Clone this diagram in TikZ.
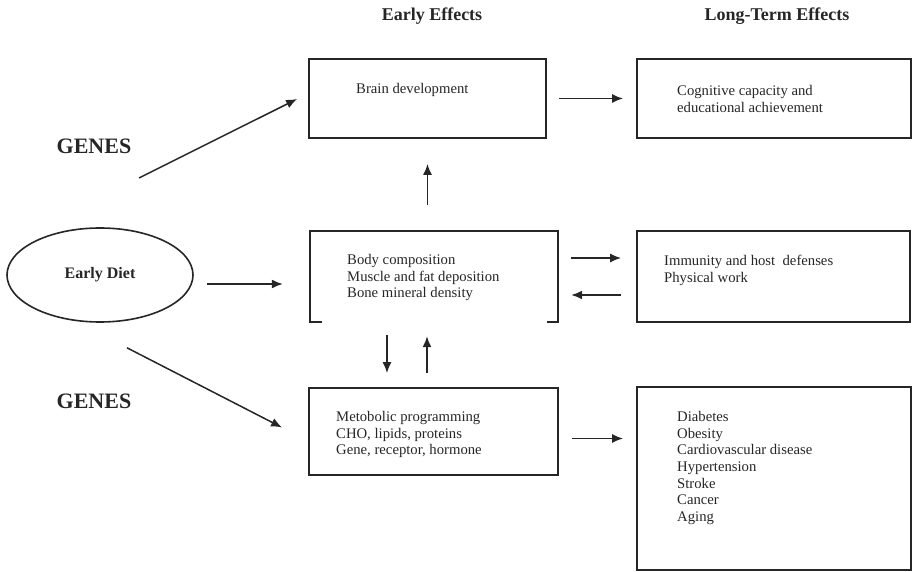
\documentclass[tikz,border=0pt]{standalone}
\usepackage{fontspec}
\setmainfont{Liberation Serif}
\usetikzlibrary{arrows.meta,shapes.geometric,fit,calc}
\begin{document}
\begin{tikzpicture}[x=1pt,y=-1pt,
  box/.style={draw=black!85, line width=1.8pt, inner sep=0pt, fit={#1}},
  txt/.style={anchor=north west, inner sep=0pt, align=left, text=black!85,
    font=\fontsize{14.7}{16.7}\selectfont},
  head/.style={inner sep=0pt, text=black!85, font=\fontsize{18}{20}\selectfont\bfseries},
  genes/.style={inner sep=0pt, text=black!85, font=\fontsize{22}{24}\selectfont\bfseries},
  arr/.style={draw=black!85, line width=1.5pt, -{Latex[length=11pt,width=9pt]}}]
\useasboundingbox (0,0) rectangle (914,572);
% headers
\node[head] (h1) at (432,16) {Early Effects};
\node[head] (h2) at (777,16) {Long-Term Effects};
\node[genes] (g1) at (94,146) {GENES};
\node[genes] (g2) at (94,401) {GENES};
% ellipse
\node[draw=black!85, line width=1.6pt, ellipse, minimum width=186pt, minimum height=94pt, inner sep=0pt,
  font=\fontsize{16}{18}\selectfont\bfseries, text=black!85] (diet) at (100,275) {Early Diet};
% boxes
\node[box={(309,59) (546,138)}] (brain) {};
\node[box={(637,59) (911,138)}] (cog) {};
\node[inner sep=0pt, fit={(310,231) (558,322)}] (body) {};
\draw[draw=black!85, line width=1.8pt] ($(body.south west)+(12,0)$) -- (body.south west) -- (body.north west)
  -- (body.north east) -- (body.south east) -- ($(body.south east)+(-11,0)$);
\node[box={(637,231) (910,322)}] (imm) {};
\node[box={(309,388) (558,475)}] (meta) {};
\node[box={(637,387) (911,570)}] (dis) {};
% texts
\node[txt] (t1) at (356,83) {Brain development};
\node[txt] (t2) at (677,85) {Cognitive capacity and\\educational achievement};
\node[txt] (t3) at (347,254) {Body composition\\Muscle and fat deposition\\Bone mineral density};
\node[txt] (t4) at (664,255) {Immunity and host\ \ defenses\\Physical work};
\node[txt] (t5) at (336,411) {Metobolic programming\\CHO, lipids, proteins\\Gene, receptor, hormone};
\node[txt] (t6) at (677,411) {Diabetes\\Obesity\\Cardiovascular disease\\Hypertension\\Stroke\\Cancer\\Aging};
% arrows
\draw[arr] ($(g1)+(45,32)$) -- ($(brain.west)+(-11,0.5)$);
\draw[arr] ($(diet.east)+(13,9)$) -- ($(body.west)+(-27,7.5)$);
\draw[arr] ($(diet.south)+(27,25)$) -- ($(meta.west)+(-26,-4)$);
\draw[arr] ($(brain.east)+(12,0)$) -- ($(cog.west)+(-13,0)$);
\draw[arr] ($(body.north)+(-6.5,-26)$) -- ($(brain.south)+(0,25)$);
\draw[arr] ($(body.east)+(13,-18.5)$) -- ($(imm.west)+(-15,-18.5)$);
\draw[arr] ($(imm.west)+(-15,18.5)$) -- ($(body.east)+(13,18.5)$);
\draw[arr] ($(body.south)+(-47,13)$) -- ($(meta.north)+(-46.5,-14)$);
\draw[arr] ($(meta.north)+(-6.5,-14)$) -- ($(body.south)+(-7,14)$);
\draw[arr] ($(meta.east)+(13,7)$) -- ($(dis.west)+(-13,-40)$);
\end{tikzpicture}
\end{document}
